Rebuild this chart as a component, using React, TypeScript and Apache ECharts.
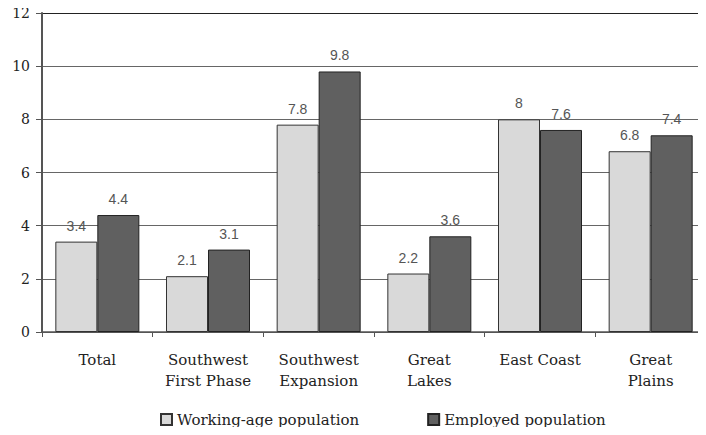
import React, { useEffect, useRef } from "react";
import * as echarts from "echarts";

const categories = [
  "Total",
  "Southwest\nFirst Phase",
  "Southwest\nExpansion",
  "Great\nLakes",
  "East Coast",
  "Great\nPlains",
];
const workingAge = [3.4, 2.1, 7.8, 2.2, 8, 6.8];
const employed = [4.4, 3.1, 9.8, 3.6, 7.6, 7.4];
const seriesNames = ["Working-age population", "Employed population"];

const serif = "DejaVu Serif";
const sans = "Liberation Sans";

export default function App() {
  const ref = useRef<HTMLDivElement>(null);
  useEffect(() => {
    if (!ref.current) return;
    const chart = echarts.init(ref.current, undefined, { renderer: "svg" });
    const valueLabel = {
      show: true,
      position: "top" as const,
      distance: 9,
      color: "#555",
      fontFamily: sans,
      fontSize: 14,
    };
    chart.setOption({
      animation: false,
      backgroundColor: "#fff",
      grid: { left: 42, right: -8, top: 13, bottom: 103, containLabel: false },
      legend: {
        left: 155,
        top: 407,
        itemWidth: 11,
        itemHeight: 11,
        itemGap: 68,
        icon: "rect",
        textStyle: { fontFamily: serif, fontSize: 15, color: "#222" },
        data: seriesNames,
      },
      xAxis: {
        type: "category",
        data: categories,
        axisLine: { lineStyle: { color: "#555", width: 1.5 } },
        axisTick: { show: true, length: 5, lineStyle: { color: "#555" } },
        axisLabel: {
          fontFamily: serif,
          fontSize: 15,
          color: "#222",
          lineHeight: 21,
          margin: 17,
          interval: 0,
        },
      },
      yAxis: {
        type: "value",
        min: 0,
        max: 12,
        interval: 2,
        axisLine: { show: true, lineStyle: { color: "#555", width: 2 } },
        axisTick: { show: true, length: 6, lineStyle: { color: "#555" } },
        axisLabel: { fontFamily: serif, fontSize: 14, color: "#222", margin: 12 },
        splitLine: {
          lineStyle: {
            color: ["#555", "#666", "#666", "#666", "#666", "#666", "#222"],
            width: 1,
          },
        },
      },
      series: [
        {
          name: seriesNames[0],
          type: "bar",
          data: workingAge,
          barWidth: 42,
          barGap: "0%",
          itemStyle: { color: "#d9d9d9", borderColor: "#333", borderWidth: 1 },
          label: valueLabel,
        },
        {
          name: seriesNames[1],
          type: "bar",
          data: employed,
          barWidth: 42,
          itemStyle: { color: "#606060", borderColor: "#222", borderWidth: 1 },
          label: valueLabel,
        },
      ],
    });
    return () => chart.dispose();
  }, []);
  return <div ref={ref} style={{ width: 706, height: 435, margin: -8 }} />;
}
